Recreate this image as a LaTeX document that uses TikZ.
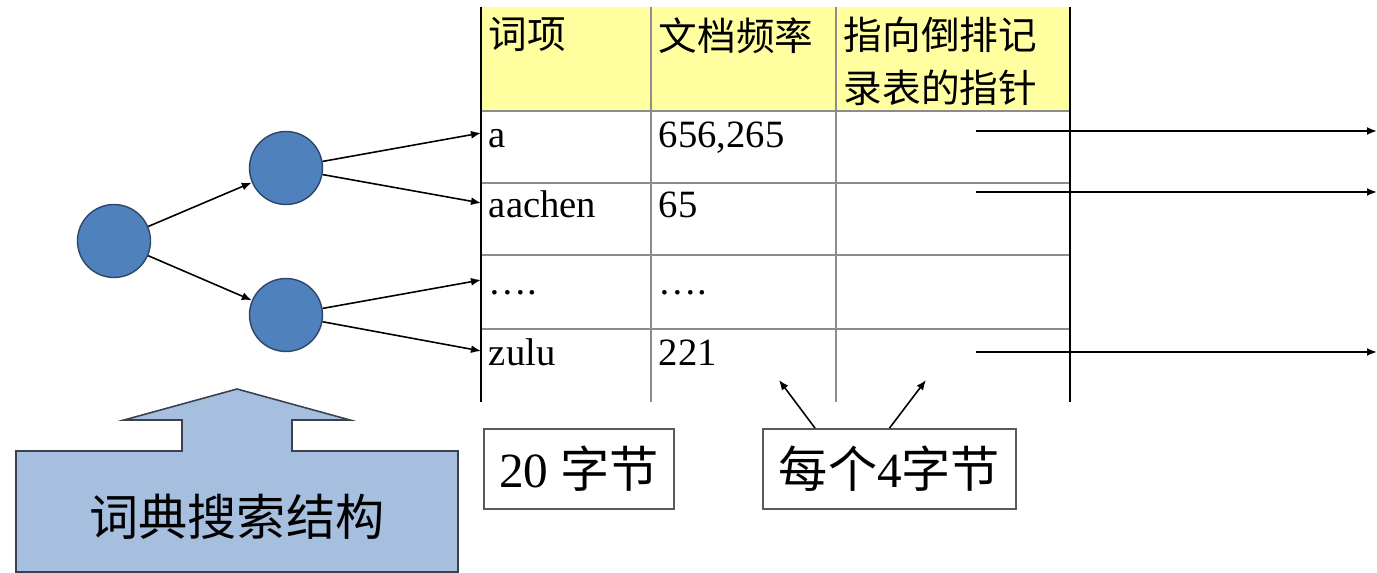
\documentclass[tikz,border=0pt]{standalone}
\usepackage{fontspec}
\setmainfont{Liberation Serif}
\newfontfamily\cjk{Noto Sans CJK SC}
\usepackage{tikz}
\usetikzlibrary{arrows.meta,positioning}
\definecolor{nodeblue}{RGB}{79, 129, 189}
\definecolor{nodeedge}{RGB}{45, 70, 105}
\definecolor{pushblue}{RGB}{167, 191, 222}
\definecolor{pushedge}{RGB}{60, 65, 80}
\definecolor{headyellow}{RGB}{255, 255, 160}
\definecolor{gridgray}{RGB}{140, 140, 140}
\definecolor{boxedge}{RGB}{90, 90, 90}

\begin{document}
\begin{tikzpicture}[
    x=0.02cm, y=-0.02cm,
    circ/.style={circle, draw=nodeedge, fill=nodeblue, line width=0.8pt, minimum size=1.46cm, inner sep=0pt},
    arrow/.style={-{Latex[length=0.2cm,width=0.16cm]}, line width=0.9pt},
    cell/.style={anchor=west, inner xsep=0.15cm, inner ysep=0pt, text height=0.7cm, text depth=0.1cm, font=\fontsize{22}{30}\selectfont},
    head/.style={anchor=north west, inner xsep=0.15cm, inner ysep=0.2cm, align=left, font=\fontsize{22}{30}\selectfont\cjk},
    labelbox/.style={rectangle, draw=boxedge, line width=1pt, minimum height=1.6cm, inner sep=0pt, font=\fontsize{28}{32}\selectfont},
    grid/.style={draw=gridgray, line width=0.9pt},
    border/.style={draw=black, line width=1.2pt}
]
\useasboundingbox (0,0) rectangle (1377,573);

% table
\fill[headyellow] (481,7) rectangle (1070,111);
\foreach \y in {111,183,255,329}
    \draw[grid] (481,\y) -- (1070,\y);
\foreach \x in {651,836}
    \draw[grid] (\x,7) -- (\x,402);
\draw[border] (481,7) -- (481,402);
\draw[border] (1070,7) -- (1070,402);

\node[head] (hterm) at (481,7) {词项};
\node[head] (hfreq) at (651,7) {文档频率};
\node[head] (hptr) at (836,7) {指向倒排记\\录表的指针};

\node[cell] (ta) at (481,133) {a};
\node[cell] (taachen) at (481,203) {aachen};
\node[cell] (tdots) at (481,280) {….};
\node[cell] (tzulu) at (481,351) {zulu};

\node[cell] (fa) at (651,133) {656,265};
\node[cell] (faachen) at (651,203) {65};
\node[cell] (fdots) at (651,280) {….};
\node[cell] (fzulu) at (651,351) {221};

% pointers to postings
\coordinate (pa) at (976,131);
\coordinate (paachen) at (976,192);
\coordinate (pzulu) at (976,352);
\coordinate (outa) at (1377,131);
\coordinate (outaachen) at (1377,192);
\coordinate (outzulu) at (1377,352);
\draw[arrow, line width=1.1pt] (pa) -- (outa);
\draw[arrow, line width=1.1pt] (paachen) -- (outaachen);
\draw[arrow, line width=1.1pt] (pzulu) -- (outzulu);

% search tree
\node[circ] (root) at (114,241) {};
\node[circ] (upper) at (286,168) {};
\node[circ] (lower) at (286,315) {};

\draw[arrow] (root) -- (upper);
\draw[arrow] (root) -- (lower);
\draw[arrow] (upper) -- (ta.west);
\draw[arrow] (upper) -- (taachen.west);
\draw[arrow] (lower) -- (tdots.west);
\draw[arrow] (lower) -- (tzulu.west);

% size notes
\node[labelbox, minimum width=3.8cm] (size20) at (579,469) {20 {\cjk 字节}};
\node[labelbox, minimum width=5.06cm] (size4) at (889.5,469) {{\cjk 每个}4{\cjk 字节}};

\coordinate (freqtip) at (779,380);
\coordinate (ptrtip) at (926,380);
\draw[arrow] ([xshift=-1.49cm]size4.north) -- (freqtip);
\draw[arrow] (size4.north) -- (ptrtip);

% big up arrow
\draw[fill=pushblue, draw=pushedge, line width=0.9pt]
    (16,572) -- (16,451) -- (182,451) -- (182,420) -- (124,420) -- (237,389)
    -- (350,420) -- (292,420) -- (292,451) -- (458,451) -- (458,572) -- cycle;
\node[font=\fontsize{28}{32}\selectfont\cjk] (dict) at (237,517) {词典搜索结构};

\end{tikzpicture}
\end{document}
